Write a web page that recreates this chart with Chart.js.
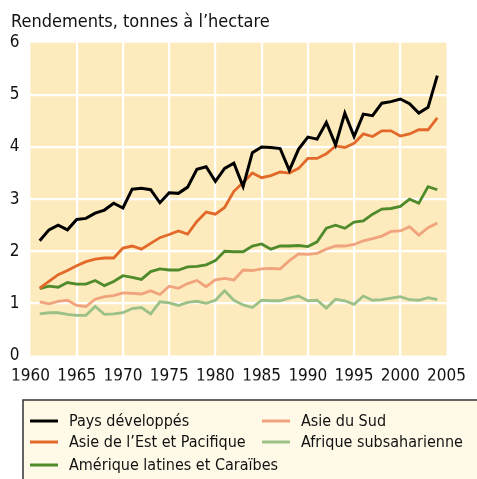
<!DOCTYPE html>
<html>
<head>
<meta charset="utf-8">
<script src="https://cdn.jsdelivr.net/npm/chart.js@4"></script>
<style>
  html, body { margin: 0; padding: 0; background: #fff; }
  #wrap { width: 477px; height: 479px; position: relative; }
</style>
</head>
<body>
<div id="wrap"><canvas id="chart" width="477" height="479"></canvas></div>
<script>
const years = [];
for (let y = 1961; y <= 2004; y++) years.push(y);

const seriesNames = [
  'Pays développés',
  'Asie de l\u2019Est et Pacifique',
  'Amérique latines et Caraïbes',
  'Asie du Sud',
  'Afrique subsaharienne'
];
const seriesColors = ['#000000', '#E2692A', '#4F8A2B', '#F0A37C', '#9BC088'];

const developed = [2.2, 2.41, 2.5, 2.41, 2.61, 2.63, 2.73, 2.79, 2.92, 2.83,
  3.19, 3.21, 3.18, 2.93, 3.12, 3.11, 3.23, 3.57, 3.62, 3.34,
  3.59, 3.69, 3.24, 3.89, 4.0, 3.99, 3.97, 3.55, 3.96, 4.19,
  4.15, 4.47, 4.04, 4.65, 4.2, 4.63, 4.6, 4.84, 4.87, 4.92,
  4.83, 4.65, 4.76, 5.37];
const eastAsia = [1.29, 1.42, 1.55, 1.63, 1.72, 1.8, 1.85, 1.87, 1.87, 2.06,
  2.1, 2.04, 2.15, 2.26, 2.32, 2.39, 2.33, 2.57, 2.75, 2.71,
  2.84, 3.15, 3.32, 3.5, 3.41, 3.45, 3.52, 3.5, 3.59, 3.78,
  3.78, 3.87, 4.02, 3.99, 4.07, 4.25, 4.2, 4.31, 4.31, 4.21,
  4.25, 4.33, 4.33, 4.56];
const latinAm = [1.28, 1.33, 1.31, 1.4, 1.37, 1.37, 1.44, 1.34, 1.42, 1.53,
  1.5, 1.46, 1.61, 1.66, 1.64, 1.64, 1.7, 1.71, 1.74, 1.82,
  2.0, 1.99, 1.99, 2.1, 2.14, 2.04, 2.1, 2.1, 2.11, 2.09,
  2.18, 2.44, 2.5, 2.44, 2.56, 2.58, 2.71, 2.81, 2.82, 2.86,
  3.0, 2.92, 3.24, 3.18];
const southAsia = [1.03, 0.99, 1.04, 1.06, 0.96, 0.94, 1.08, 1.13, 1.15, 1.2,
  1.19, 1.18, 1.24, 1.17, 1.33, 1.29, 1.38, 1.44, 1.32, 1.45,
  1.48, 1.45, 1.64, 1.63, 1.66, 1.67, 1.66, 1.82, 1.95, 1.94,
  1.96, 2.04, 2.1, 2.1, 2.13, 2.2, 2.24, 2.29, 2.38, 2.39,
  2.47, 2.31, 2.45, 2.54];
const africa = [0.8, 0.82, 0.82, 0.79, 0.77, 0.77, 0.94, 0.79, 0.8, 0.82,
  0.9, 0.92, 0.8, 1.03, 1.01, 0.96, 1.02, 1.04, 1.0, 1.06,
  1.24, 1.06, 0.97, 0.92, 1.06, 1.05, 1.05, 1.1, 1.14, 1.05,
  1.06, 0.91, 1.08, 1.05, 0.98, 1.14, 1.06, 1.07, 1.1, 1.13,
  1.07, 1.06, 1.11, 1.07];

const allSeries = [developed, eastAsia, latinAm, southAsia, africa];
const FONT = '"Liberation Sans Narrow", "DejaVu Sans Condensed", "Arial Narrow", sans-serif';

const datasets = allSeries.map((values, i) => ({
  label: seriesNames[i],
  data: values.map((v, k) => ({ x: years[k], y: v })),
  borderColor: seriesColors[i],
  borderWidth: i === 0 ? 3 : 2.8,
  pointRadius: 0,
  tension: 0,
  fill: false,
  order: i === 0 ? 0 : i
}));

const decor = {
  id: 'decor',
  beforeDraw(chart) {
    const { ctx, chartArea: a } = chart;
    ctx.save();
    ctx.fillStyle = '#FDEBBD';
    ctx.fillRect(a.left, a.top, a.right - a.left, a.bottom - a.top);
    ctx.restore();
  },
  afterDraw(chart) {
    const ctx = chart.ctx;
    ctx.save();
    // title
    ctx.fillStyle = '#111';
    ctx.font = '18px ' + FONT;
    ctx.textBaseline = 'alphabetic';
    ctx.textAlign = 'left';
    ctx.fillText('Rendements, tonnes à l\u2019hectare', 11, 27);

    // legend box
    ctx.fillStyle = '#FFFAE8';
    ctx.strokeStyle = '#333333';
    ctx.lineWidth = 1.5;
    ctx.fillRect(23, 400, 470, 90);
    ctx.strokeRect(23, 400, 470, 90);

    const slots = [
      [30, 421], [30, 442], [30, 465], [262, 421], [262, 442]
    ];
    ctx.font = '16px ' + FONT;
    ctx.textBaseline = 'middle';
    chart.data.datasets.forEach((ds, i) => {
      const [x, y] = slots[i];
      ctx.strokeStyle = ds.borderColor;
      ctx.lineWidth = 3;
      ctx.beginPath();
      ctx.moveTo(x, y);
      ctx.lineTo(x + 28, y);
      ctx.stroke();
      ctx.fillStyle = '#111';
      ctx.fillText(ds.label, x + 39, y + 1);
    });
    ctx.restore();
  }
};

const edgeless = (c) => (c.index === 0 || c.index === c.chart.scales[c.scale.id].ticks.length - 1) ? 'rgba(0,0,0,0)' : '#ffffff';

new Chart(document.getElementById('chart'), {
  type: 'line',
  data: { datasets },
  options: {
    responsive: false,
    animation: false,
    layout: { padding: { left: 0, right: 18.5, top: 42.7, bottom: 98.5 } },
    plugins: { legend: { display: false }, tooltip: { enabled: false } },
    scales: {
      x: {
        type: 'linear',
        min: 1960,
        max: 2005,
        afterFit: (s) => { s.height = 25; },
        border: { display: false },
        grid: { color: (c) => edgeless(c), lineWidth: 2.2, drawTicks: false },
        ticks: {
          stepSize: 5,
          padding: 11,
          color: '#111',
          font: { family: FONT, size: 17 },
          maxRotation: 0,
          callback: (v) => String(v)
        }
      },
      y: {
        min: 0,
        max: 6,
        afterFit: (s) => { s.width = 29.3; },
        border: { display: false },
        grid: { color: (c) => edgeless(c), lineWidth: 2.2, drawTicks: false },
        ticks: {
          stepSize: 1,
          padding: 11,
          color: '#111',
          font: { family: FONT, size: 17 }
        }
      }
    }
  },
  plugins: [decor]
});
</script>
</body>
</html>
